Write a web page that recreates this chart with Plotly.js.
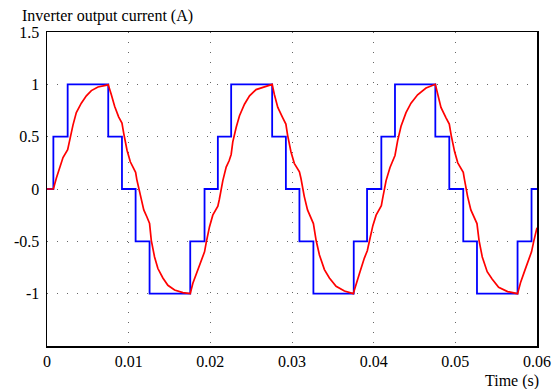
<!DOCTYPE html>
<html>
<head>
<meta charset="utf-8">
<script src="https://cdn.plot.ly/plotly-3.0.1.min.js"></script>
<style>
html,body{margin:0;padding:0;background:#fff;}
#chart{width:556px;height:389px;}
#chart text{font-family:'Liberation Serif','Times New Roman',serif !important;}
</style>
</head>
<body>
<div id="chart"></div>
<script>
// Staircase inverter output (blue): switching instants in ms and levels
const stepTimesMs = [0, 0.78, 2.53, 7.5, 9.18, 10.85, 12.56, 17.54, 19.29, 20.92, 22.55, 27.57, 29.25, 30.91, 32.62, 37.56, 39.19, 40.94, 42.61, 47.55, 49.26, 50.97, 52.65, 57.62, 59.33, 60];
const stepLevels  = [0, 0.5, 1, 0.5, 0, -0.5, -1, -0.5, 0, 0.5, 1, 0.5, 0, -0.5, -1, -0.5, 0, 0.5, 1, 0.5, 0, -0.5, -1, -0.5, 0, 0];

// Output current (red): read points, time in ms
const currentTimesMs = [
  0, 0.78, 1.15, 1.55, 1.96, 2.53, 2.78, 3.18, 3.59, 4.2, 4.82, 5.43, 6.24, 7.06, 7.5,
  7.88, 8.28, 8.77, 9.18, 9.4, 9.8, 10.2, 10.85, 11.0, 11.45, 11.85, 12.25, 12.56,
  12.77, 13.17, 13.58, 14.19, 14.8, 15.62, 16.64, 17.54,
  17.86, 18.27, 18.88, 19.29, 19.5, 19.9, 20.3, 20.92,
  21.1, 21.53, 21.94, 22.3, 22.55, 22.75, 23.17, 23.57, 24.18, 24.8, 25.6, 26.63, 27.57,
  27.85, 28.26, 28.87, 29.25, 29.46, 29.87, 30.28, 30.91, 31.1, 31.5, 31.9, 32.3, 32.62,
  32.95, 33.36, 33.97, 34.58, 35.4, 36.42, 37.5,
  37.85, 38.25, 38.86, 39.22, 39.5, 39.9, 40.3, 40.94,
  41.1, 41.52, 42.0, 42.3, 42.61, 42.93, 43.35, 43.96, 44.57, 45.38, 46.41, 47.55,
  47.83, 48.24, 48.86, 49.26, 49.5, 49.9, 50.3, 50.97, 51.1, 51.5, 51.9, 52.3, 52.65,
  52.9, 53.3, 53.9, 54.5, 55.3, 56.4, 57.62,
  58.0, 58.5, 59.0, 59.33, 59.6, 60.0
];
const currentValues = [
  0, 0, 0.105, 0.21, 0.30, 0.376, 0.47, 0.61, 0.73, 0.82, 0.89, 0.94, 0.975, 0.99, 0.995,
  0.90, 0.79, 0.69, 0.63, 0.53, 0.37, 0.26, 0.16, 0.09, -0.07, -0.20, -0.27, -0.33,
  -0.49, -0.65, -0.76, -0.85, -0.92, -0.965, -0.99, -1.0,
  -0.90, -0.81, -0.68, -0.60, -0.51, -0.36, -0.25, -0.165,
  -0.10, 0.08, 0.21, 0.27, 0.33, 0.45, 0.59, 0.70, 0.81, 0.89, 0.95, 0.98, 1.0,
  0.90, 0.78, 0.68, 0.62, 0.515, 0.356, 0.245, 0.165, 0.10, -0.07, -0.20, -0.265, -0.33,
  -0.49, -0.63, -0.77, -0.85, -0.93, -0.975, -1.0,
  -0.90, -0.81, -0.66, -0.59, -0.49, -0.35, -0.25, -0.16,
  -0.09, 0.08, 0.205, 0.26, 0.32, 0.46, 0.60, 0.73, 0.82, 0.90, 0.965, 1.0,
  0.92, 0.78, 0.68, 0.62, 0.51, 0.36, 0.25, 0.16, 0.10, -0.07, -0.20, -0.27, -0.33,
  -0.49, -0.65, -0.79, -0.86, -0.94, -0.98, -1.0,
  -0.89, -0.78, -0.67, -0.60, -0.50, -0.37
];

const xTickVals = [0, 0.01, 0.02, 0.03, 0.04, 0.05, 0.06];
const xTickText = ['0', '0.01', '0.02', '0.03', '0.04', '0.05', '0.06'];
const yTickVals = [-1, -0.5, 0, 0.5, 1, 1.5];
const yTickText = ['-1', '-0.5', '0', '0.5', '1', '1.5'];

const toSec = a => a.map(v => v / 1000);
const serif = 'Liberation Serif';
const mkFont = () => ({family: serif, size: 16, color: '#000'});

const traces = [
  {x: toSec(stepTimesMs), y: stepLevels, mode: 'lines', line: {shape: 'hv', color: '#0000ff', width: 1.8}, hoverinfo: 'skip'},
  {x: toSec(currentTimesMs), y: currentValues, mode: 'lines', line: {color: '#ff0000', width: 1.7}, hoverinfo: 'skip'}
];

const layout = {
  width: 556, height: 389,
  margin: {l: 47, r: 18.5, t: 31.5, b: 42.5},
  paper_bgcolor: '#fff', plot_bgcolor: '#fff',
  showlegend: false,
  font: mkFont(),
  xaxis: {
    range: [0, 0.06], tickvals: xTickVals, ticktext: xTickText, ticks: '',
    showline: true, mirror: true, linecolor: '#000', linewidth: 1.5,
    showgrid: true, gridcolor: '#666', gridwidth: 1, griddash: '1px,9px',
    zeroline: false, tickfont: mkFont(), ticklabelstandoff: 0
  },
  yaxis: {
    range: [-1.5, 1.5], tickvals: yTickVals, ticktext: yTickText, ticks: '',
    showline: true, mirror: true, linecolor: '#000', linewidth: 1.5,
    showgrid: true, gridcolor: '#666', gridwidth: 1, griddash: '1px,9px',
    zeroline: false, tickfont: mkFont(), ticklabelstandoff: 3
  },
  annotations: [
    {text: 'Inverter output current (A)', xref: 'paper', yref: 'paper', x: -0.055, y: 1.052,
     xanchor: 'left', yanchor: 'middle', showarrow: false, font: mkFont()},
    {text: 'Time (s)', xref: 'paper', yref: 'paper', x: 1.008, y: -0.111,
     xanchor: 'right', yanchor: 'middle', showarrow: false, font: mkFont()}
  ]
};

Plotly.newPlot('chart', traces, layout, {staticPlot: true, displayModeBar: false});
</script>
</body>
</html>
